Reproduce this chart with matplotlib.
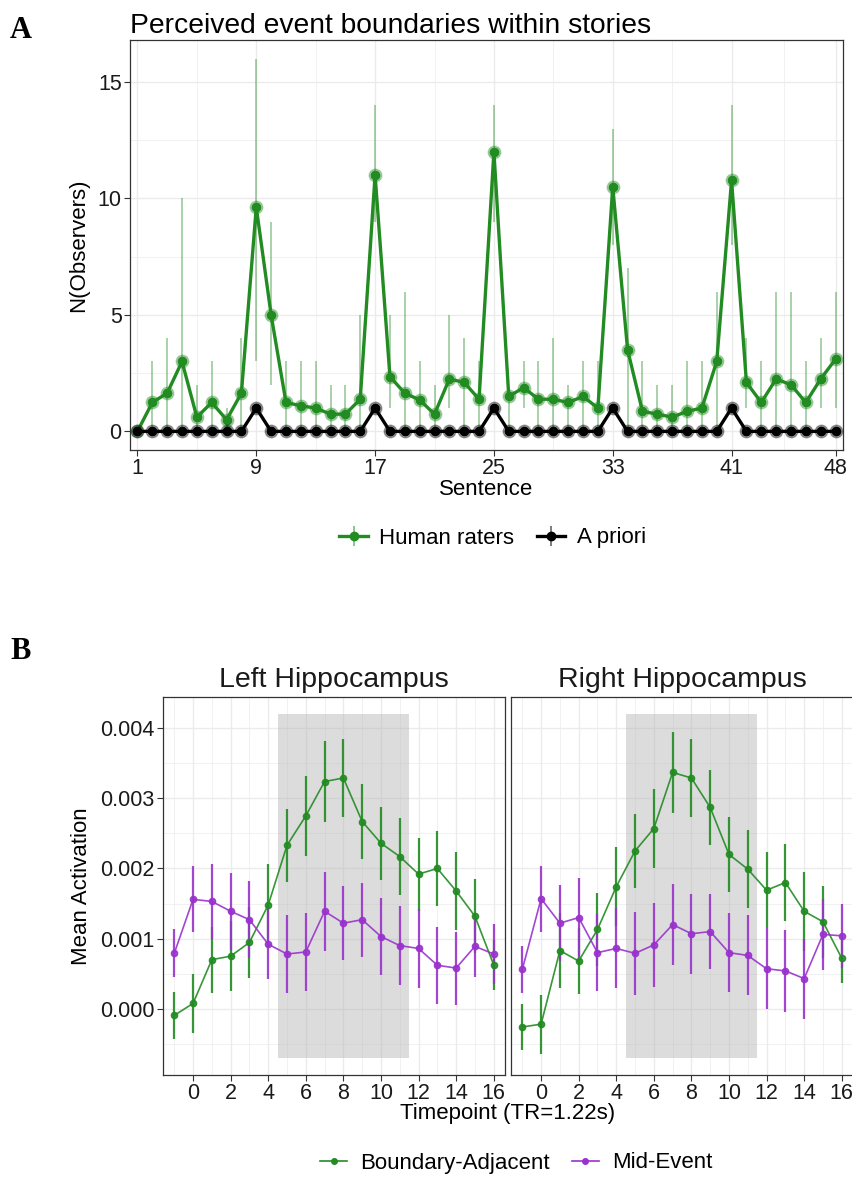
import numpy as np
import matplotlib.pyplot as plt
from matplotlib.lines import Line2D
from matplotlib.legend_handler import HandlerTuple

# ---- panel A data ----
sentence = np.arange(1, 49)
human_mean = [0, 1.24, 1.64, 3.0, 0.61, 1.24, 0.5, 1.64, 9.62, 5.0,
              1.24, 1.1, 1.0, 0.74, 0.74, 1.38, 11.0, 2.35, 1.64, 1.35,
              0.74, 2.25, 2.1, 1.38, 12.0, 1.5, 1.88, 1.38, 1.38, 1.24,
              1.5, 1.0, 10.5, 3.5, 0.86, 0.74, 0.61, 0.86, 1.0, 3.0,
              10.77, 2.1, 1.24, 2.25, 2.0, 1.24, 2.25, 3.1]
human_lo = [0, 0, 0, 0, 0, 0, 0, 0, 3, 2,
            0, 0, 0, 0, 0, 0, 9, 1, 0, 0,
            0, 1, 0, 0, 9, 0, 1, 0, 0, 0,
            0, 0, 8, 0, 0, 0, 0, 0, 0, 0,
            8, 1, 0, 0, 0, 0, 1, 1]
human_hi = [0, 3, 4, 10, 2, 3, 1, 4, 16, 9,
            3, 3, 3, 2, 2, 5, 14, 5, 6, 3,
            2, 5, 4, 3, 14, 1.5, 3, 3, 4, 2,
            3, 3, 13, 7, 3, 2, 2, 3, 3, 6,
            14, 4, 3, 6, 6, 3, 4, 6]
apriori = [1 if s in (9, 17, 25, 33, 41) else 0 for s in sentence]

# ---- panel B data (units of 0.001) ----
timepoint = np.arange(-1, 17)
left_boundary = [-0.095, 0.076, 0.70, 0.75, 0.945, 1.48, 2.33, 2.75, 3.24, 3.29,
                 2.67, 2.36, 2.17, 1.92, 2.0, 1.68, 1.32, 0.625]
left_boundary_se = [0.34, 0.42, 0.47, 0.50, 0.50, 0.58, 0.52, 0.57, 0.58, 0.55,
                    0.53, 0.52, 0.55, 0.52, 0.53, 0.56, 0.53, 0.36]
left_mid = [0.79, 1.56, 1.53, 1.39, 1.27, 0.92, 0.78, 0.81, 1.39, 1.22,
            1.27, 1.03, 0.90, 0.86, 0.62, 0.58, 0.89, 0.78]
left_mid_se = [0.34, 0.47, 0.54, 0.55, 0.55, 0.50, 0.56, 0.56, 0.56, 0.53,
               0.53, 0.55, 0.56, 0.56, 0.55, 0.52, 0.44, 0.43]
right_boundary = [-0.26, -0.22, 0.83, 0.68, 1.13, 1.74, 2.25, 2.57, 3.37, 3.29,
                  2.87, 2.20, 1.99, 1.69, 1.80, 1.39, 1.24, 0.72]
right_boundary_se = [0.33, 0.42, 0.54, 0.47, 0.52, 0.56, 0.53, 0.57, 0.58, 0.56,
                     0.54, 0.54, 0.56, 0.54, 0.55, 0.56, 0.51, 0.36]
right_mid = [0.56, 1.57, 1.22, 1.30, 0.80, 0.86, 0.79, 0.91, 1.20, 1.07,
             1.10, 0.80, 0.76, 0.57, 0.54, 0.43, 1.06, 1.04]
right_mid_se = [0.33, 0.47, 0.54, 0.56, 0.55, 0.57, 0.59, 0.60, 0.58, 0.57,
                0.54, 0.56, 0.57, 0.58, 0.58, 0.57, 0.51, 0.46]

GREEN = '#228B22'
PURPLE = '#9932CC'
GRID = '#EBEBEB'
TICK_FS = 15.5
LABEL_FS = 16
plt.rcParams['font.family'] = ['Liberation Sans', 'DejaVu Sans']

fig = plt.figure(figsize=(8.52, 11.79), dpi=100)


def style_axes(ax):
    ax.set_facecolor('white')
    ax.grid(True, which='major', color=GRID, linewidth=1.0)
    ax.grid(True, which='minor', color=GRID, linewidth=0.5)
    ax.set_axisbelow(True)
    for s in ax.spines.values():
        s.set_color('#333333')
        s.set_linewidth(0.9)
    ax.tick_params(which='major', length=4, color='#333333', labelsize=TICK_FS, labelcolor='#1A1A1A', pad=2)
    ax.tick_params(which='minor', length=0)


# ---- panel A ----
axA = fig.add_axes([0.1526, 0.6183, 0.8368, 0.3478])
style_axes(axA)
yerr = [np.array(human_mean) - np.array(human_lo), np.array(human_hi) - np.array(human_mean)]
axA.errorbar(sentence, human_mean, yerr=yerr, fmt='none', ecolor=GREEN, alpha=0.45, elinewidth=1.2)
axA.plot(sentence, human_mean, color=GREEN, lw=2.4, zorder=3)
axA.plot(sentence, human_mean, 'o', color=GREEN, ms=9, alpha=0.35, zorder=4)
axA.plot(sentence, human_mean, 'o', color=GREEN, ms=6, zorder=5)
axA.plot(sentence, apriori, color='black', lw=2.4, zorder=6)
axA.plot(sentence, apriori, 'o', color='black', ms=9, alpha=0.35, zorder=7)
axA.plot(sentence, apriori, 'o', color='black', ms=6, zorder=8)
axA.set_xlim(0.5, 48.5)
axA.set_ylim(-0.8, 16.8)
axA.set_xticks([1, 9, 17, 25, 33, 41, 48])
axA.set_xticks([5, 13, 21, 29, 37, 44.5], minor=True)
axA.set_yticks([0, 5, 10, 15])
axA.set_yticks([2.5, 7.5, 12.5], minor=True)
axA.set_xlabel('Sentence', fontsize=LABEL_FS, labelpad=0)
axA.set_ylabel('N(Observers)', fontsize=LABEL_FS, labelpad=6)
axA.set_title('Perceived event boundaries within stories', fontsize=20.3, loc='left', pad=5, x=0.0)


def glyph(color, lw, ms, vbar):
    line = Line2D([], [], color=color, lw=lw, marker='o', ms=ms)
    if not vbar:
        return line
    bar = Line2D([], [], color=color, lw=0, marker='|', ms=15, mew=1.2, alpha=0.6)
    return (bar, line)


handlesA = [glyph(GREEN, 2.4, 6, True), glyph('black', 2.4, 6, True)]
fig.legend(handlesA, ['Human raters', 'A priori'], loc='center', bbox_to_anchor=(0.578, 1 - 538 / 1179),
           ncol=2, frameon=False, fontsize=LABEL_FS, handlelength=1.3, handletextpad=0.5, columnspacing=1.0,
           handler_map={tuple: HandlerTuple(ndivide=1)})

fig.text(0.012, 1 - 30 / 1179, 'A', fontsize=22, fontweight='bold', family='Liberation Serif', va='center')
fig.text(0.012, 1 - 652 / 1179, 'B', fontsize=22, fontweight='bold', family='Liberation Serif', va='center')

# ---- panel B ----
panels = [
    ('Left Hippocampus', left_boundary, left_boundary_se, left_mid, left_mid_se, 0.1913),
    ('Right Hippocampus', right_boundary, right_boundary_se, right_mid, right_mid_se, 0.5998),
]
for i, (title, gb, gbse, pm, pmse, x0) in enumerate(panels):
    ax = fig.add_axes([x0, 0.0882, 0.4014, 0.3206])
    style_axes(ax)
    ax.axvspan(4.5, 11.5, ymin=(-0.7 + 0.945) / 5.39, ymax=(4.2 + 0.945) / 5.39,
               color='#B3B3B3', alpha=0.45, lw=0, zorder=1)
    ax.errorbar(timepoint, np.array(gb) / 1000, yerr=np.array(gbse) / 1000, color=GREEN,
                lw=1.2, marker='o', ms=4.5, elinewidth=1.6, alpha=0.9, zorder=3)
    ax.errorbar(timepoint, np.array(pm) / 1000, yerr=np.array(pmse) / 1000, color=PURPLE,
                lw=1.2, marker='o', ms=4.5, elinewidth=1.6, alpha=0.9, zorder=3)
    ax.set_xlim(-1.6, 16.6)
    ax.set_ylim(-0.000945, 0.004445)
    ax.set_xticks(range(0, 17, 2))
    ax.set_xticks(range(-1, 17, 2), minor=True)
    ax.set_yticks([0, 0.001, 0.002, 0.003, 0.004])
    ax.set_yticks([-0.0005, 0.0005, 0.0015, 0.0025, 0.0035], minor=True)
    ax.set_title(title, fontsize=20.5, pad=7, color='#1A1A1A')
    if i == 0:
        ax.yaxis.set_major_formatter(plt.FuncFormatter(lambda v, p: f'{v:.3f}'))
        ax.set_ylabel('Mean Activation', fontsize=LABEL_FS, labelpad=6)
    else:
        ax.tick_params(axis='y', which='both', left=False, labelleft=False)

fig.text((163 + 852) / 2 / 852, 1 - 1113 / 1179, 'Timepoint (TR=1.22s)', fontsize=LABEL_FS,
         ha='center', va='center')

handlesB = [glyph(GREEN, 1.2, 4, False), glyph(PURPLE, 1.2, 4, False)]
fig.legend(handlesB, ['Boundary-Adjacent', 'Mid-Event'], loc='center', bbox_to_anchor=(0.606, 1 - 1163 / 1179),
           ncol=2, frameon=False, fontsize=LABEL_FS, handlelength=1.2, handletextpad=0.6, columnspacing=1.0)

fig.savefig('out.png', dpi=100)
